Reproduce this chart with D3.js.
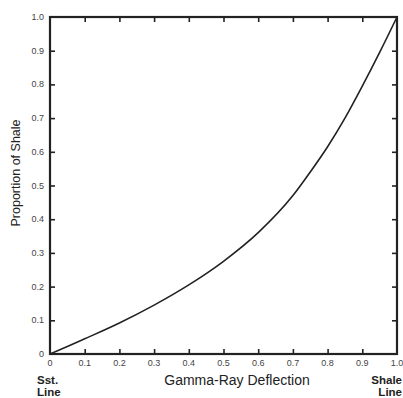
<!DOCTYPE html>
<html><head><meta charset="utf-8">
<script src="https://cdn.jsdelivr.net/npm/d3@7"></script>
<style>body{margin:0;background:#fff}svg{display:block}</style>
</head><body>
<svg id="c" width="403" height="398"></svg>
<script>
const deflection = [0, 0.05, 0.1, 0.2, 0.3, 0.4, 0.5, 0.6, 0.7, 0.75, 0.8, 0.85, 0.9, 0.95, 1.0];
const shale      = [0, 0.022, 0.045, 0.092, 0.145, 0.205, 0.275, 0.36, 0.47, 0.54, 0.615, 0.70, 0.795, 0.895, 1.0];
const tickValues = [0, 0.1, 0.2, 0.3, 0.4, 0.5, 0.6, 0.7, 0.8, 0.9, 1.0];
const tickLabels = ["0", "0.1", "0.2", "0.3", "0.4", "0.5", "0.6", "0.7", "0.8", "0.9", "1.0"];

const svg = d3.select("#c");
const L = 50, R = 397, T = 17, B = 354;
const x = d3.scaleLinear().domain([0, 1]).range([L, R]);
const y = d3.scaleLinear().domain([0, 1]).range([B, T]);
const ink = "#222";
const font = "Liberation Sans, Arial, sans-serif";

// inward ticks on all sides
const inner = tickValues.slice(1, -1);
const tk = 5;
svg.append("g").attr("transform", `translate(0,${B})`)
  .call(d3.axisTop(x).tickValues(inner).tickSize(tk).tickFormat(""))
  .call(g => g.select(".domain").remove());
svg.append("g").attr("transform", `translate(0,${T})`)
  .call(d3.axisBottom(x).tickValues(inner).tickSize(tk).tickFormat(""))
  .call(g => g.select(".domain").remove());
svg.append("g").attr("transform", `translate(${L},0)`)
  .call(d3.axisRight(y).tickValues(inner).tickSize(tk).tickFormat(""))
  .call(g => g.select(".domain").remove());
svg.append("g").attr("transform", `translate(${R},0)`)
  .call(d3.axisLeft(y).tickValues(inner).tickSize(tk).tickFormat(""))
  .call(g => g.select(".domain").remove());
svg.selectAll(".tick line").attr("stroke", ink).attr("stroke-width", 1.6);

// frame
svg.append("rect").attr("x", L).attr("y", T).attr("width", R - L).attr("height", B - T)
  .attr("fill", "none").attr("stroke", ink).attr("stroke-width", 2.2);

// tick labels
svg.append("g").selectAll("text").data(tickValues).join("text")
  .attr("x", d => x(d)).attr("y", 366).attr("text-anchor", "middle")
  .attr("font-family", font).attr("font-size", 9).attr("fill", "#444")
  .text((d, i) => tickLabels[i]);
svg.append("g").selectAll("text").data(tickValues).join("text")
  .attr("x", 44).attr("y", d => y(d) + 3).attr("text-anchor", "end")
  .attr("font-family", font).attr("font-size", 9).attr("fill", "#444")
  .text((d, i) => tickLabels[i]);

// curve
const pts = deflection.map((d, i) => [d, shale[i]]);
svg.append("path").datum(pts)
  .attr("d", d3.line().x(d => x(d[0])).y(d => y(d[1])).curve(d3.curveMonotoneX))
  .attr("fill", "none").attr("stroke", ink).attr("stroke-width", 1.6);

// axis titles
svg.append("text").attr("x", 237).attr("y", 385).attr("text-anchor", "middle")
  .attr("font-family", font).attr("font-size", 14).attr("fill", ink)
  .text("Gamma-Ray Deflection");
svg.append("text").attr("transform", "translate(20,173) rotate(-90)").attr("text-anchor", "middle")
  .attr("font-family", font).attr("font-size", 12.5).attr("fill", ink)
  .text("Proportion of Shale");
const lab = (t, xx, yy, anchor) => svg.append("text").attr("x", xx).attr("y", yy)
  .attr("text-anchor", anchor).attr("font-family", font).attr("font-size", 11.5)
  .attr("font-weight", 600).attr("fill", ink).text(t);
lab("Sst.", 37, 384, "start");
lab("Line", 37, 396, "start");
lab("Shale", 402, 384, "end");
lab("Line", 402, 396, "end");
</script>
</body></html>
